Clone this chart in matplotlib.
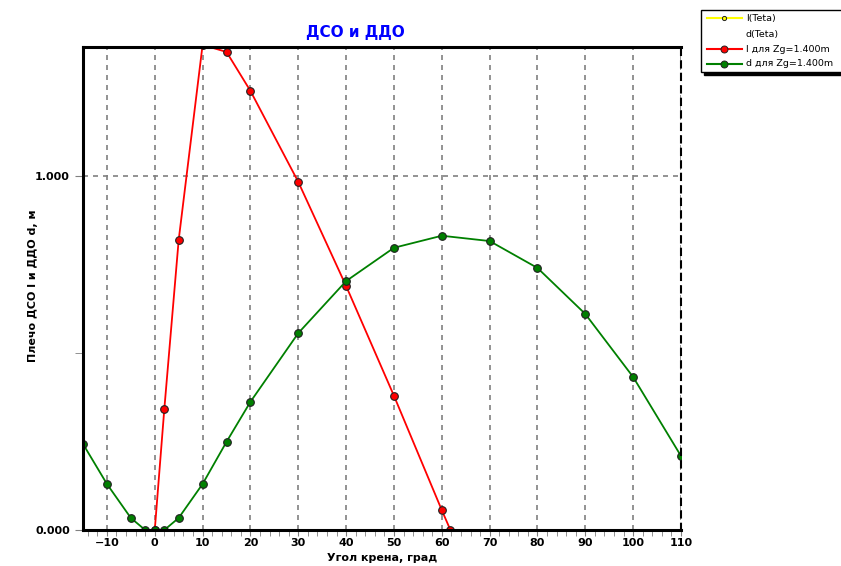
import matplotlib
matplotlib.use("Agg")
import matplotlib.pyplot as plt
from matplotlib.patches import Rectangle
from matplotlib.lines import Line2D
from matplotlib.ticker import MultipleLocator, FixedLocator, FuncFormatter

# data
dso_x = [0, 2, 5, 10, 15, 20, 30, 40, 50, 60, 61.8]
dso_y = [0.0, 0.342, 0.819, 1.37, 1.350, 1.240, 0.983, 0.689, 0.379, 0.056, 0.0]
ddo_x = [-15, -10, -5, -2, 0, 2, 5, 10, 15, 20, 30, 40, 50, 60, 70, 80, 90, 100, 110]
ddo_y = [0.243, 0.130, 0.034, 0.0, 0.0, 0.0, 0.034, 0.130, 0.249, 0.362, 0.556,
         0.703, 0.797, 0.831, 0.816, 0.740, 0.610, 0.432, 0.209]
x_ticks = [-10, 0, 10, 20, 30, 40, 50, 60, 70, 80, 90, 100, 110]
y_ticks = [0.0, 1.0]
legend_labels = ["l(Teta)", "d(Teta)", "l для Zg=1.400m", "d для Zg=1.400m"]

W, H = 841, 566
fig = plt.figure(figsize=(W / 100, H / 100), dpi=100)
fig.patch.set_facecolor("white")
ax = fig.add_axes([83 / W, 1 - 530 / H, (681 - 83) / W, (530 - 47) / H])

ax.plot(dso_x, dso_y, color="#ff0000", lw=1.3, marker="o", ms=5.5,
        markerfacecolor="#ff0000", markeredgecolor="#202020", mew=0.8, clip_on=True)
ax.plot(ddo_x, ddo_y, color="#008000", lw=1.3, marker="o", ms=5.5,
        markerfacecolor="#008000", markeredgecolor="#202020", mew=0.8, clip_on=True)

ax.set_xlim(-15, 110)
ax.set_ylim(0, 1.364)
ax.xaxis.set_major_locator(FixedLocator(x_ticks))
ax.xaxis.set_minor_locator(MultipleLocator(2))
ax.yaxis.set_major_locator(FixedLocator(y_ticks))
ax.yaxis.set_minor_locator(FixedLocator([0.5]))
ax.yaxis.set_major_formatter(FuncFormatter(lambda v, p: f"{v:.3f}"))
ax.grid(True, which="major", color="#808080", ls=(0, (3, 3)), lw=1.2)
ax.tick_params(axis="both", which="both", direction="out", color="#808080")
ax.tick_params(axis="x", which="major", length=4, labelsize=8, pad=2)
ax.tick_params(axis="x", which="minor", length=4)
ax.tick_params(axis="y", which="major", length=6, labelsize=8)
ax.tick_params(axis="y", which="minor", length=6)
for lab in ax.get_xticklabels() + ax.get_yticklabels():
    lab.set_fontweight("bold")
for s in ["left", "bottom", "top"]:
    ax.spines[s].set_linewidth(2.2)
    ax.spines[s].set_color("black")
ax.spines["right"].set_linestyle((0, (3, 3)))
ax.spines["right"].set_linewidth(1.5)

ax.set_xlabel("Угол крена, град", fontsize=8, fontweight="bold")
ax.xaxis.set_label_coords((382 - 83) / 598, -(558 - 530) / 483)
ax.xaxis.label.set_va("center")
ax.set_ylabel("Плечо ДСО l и ДДО d, м", fontsize=8, fontweight="bold")
ax.yaxis.set_label_coords(-(83 - 33) / 598, (530 - 286) / 483)
ax.yaxis.label.set_va("center")

fig.text(355 / W, 1 - 33 / H, "ДСО и ДДО", color="#0000ff", fontsize=11,
         fontweight="bold", ha="center", va="center")

# legend box (partially cut at right edge)
lx0, ly0, lx1, ly1 = 701, 10, 850, 72
shadow = Rectangle(((lx0 + 3) / W, 1 - (ly1 + 3) / H), (lx1 - lx0) / W, (ly1 - ly0) / H,
                   transform=fig.transFigure, facecolor="black", edgecolor="black")
fig.patches.append(shadow)
box = Rectangle((lx0 / W, 1 - ly1 / H), (lx1 - lx0) / W, (ly1 - ly0) / H,
                transform=fig.transFigure, facecolor="white", edgecolor="black", lw=1)
fig.patches.append(box)
rows = [18, 34, 49, 64]
colors = ["#ffff00", None, "#ff0000", "#008000"]
for yy, c, lab in zip(rows, colors, legend_labels):
    yf = 1 - yy / H
    if c is not None:
        fig.lines.append(Line2D([707 / W, 742 / W], [yf, yf], transform=fig.transFigure,
                                color=c, lw=1.5))
        ms = 3 if c == "#ffff00" else 5
        fig.lines.append(Line2D([724 / W], [yf], transform=fig.transFigure, marker="o",
                                ms=ms, markerfacecolor=c, markeredgecolor="#202020", mew=0.7))
    fig.text(746 / W, yf, lab, fontsize=6.8, va="center", ha="left")

fig.savefig("out.png", dpi=100)
